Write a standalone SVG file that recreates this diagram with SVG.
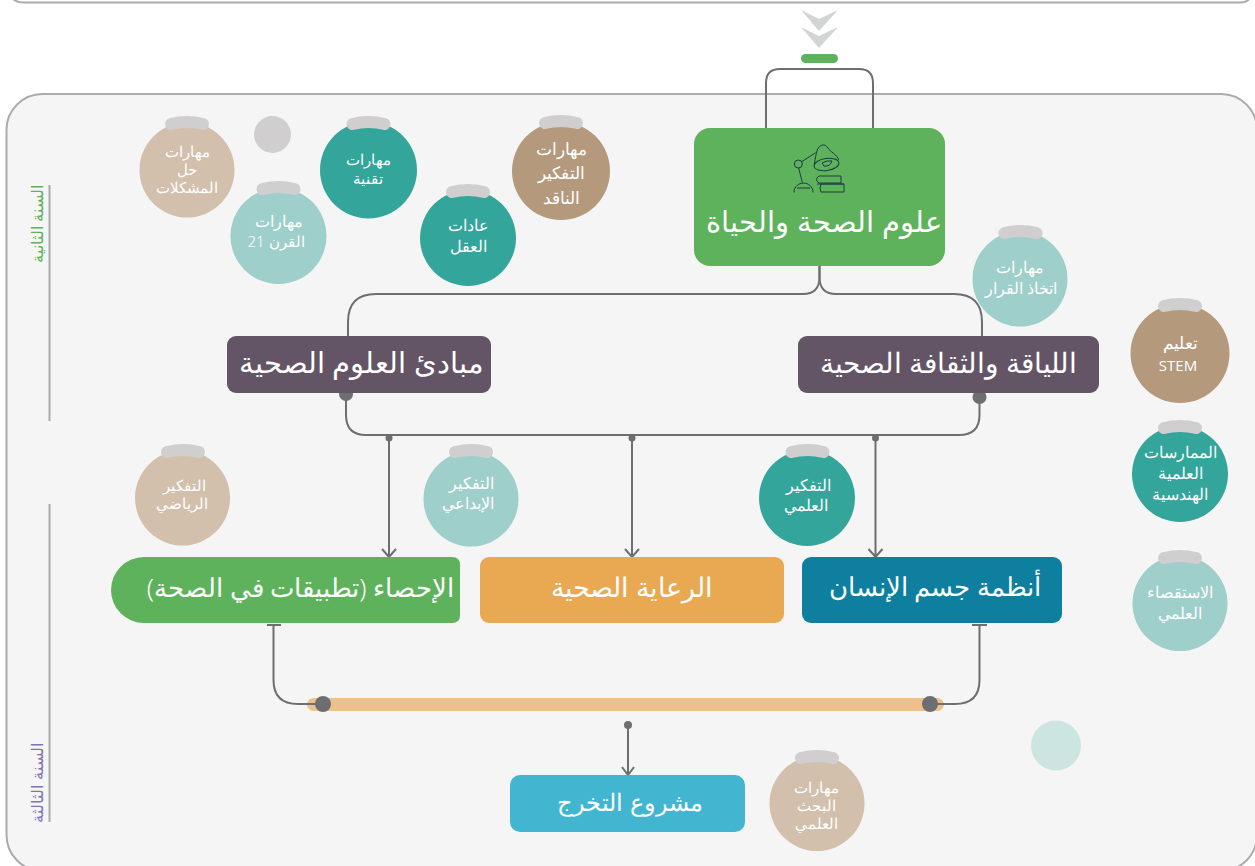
<svg xmlns="http://www.w3.org/2000/svg" width="1255" height="866" viewBox="0 0 1255 866">
<style>
text{font-family:"Noto Sans","DejaVu Sans",sans-serif;font-weight:300;fill:#fff;text-anchor:middle;direction:rtl}
.c{font-size:14.5px}
.m{font-size:16px}
.l{font-size:17px}
.t{font-size:26px}
.line{fill:none;stroke:#6d6e71;stroke-width:2}
.rule{fill:none;stroke:#a9abae;stroke-width:2}
.cap{fill:none;stroke:#d0cecf;stroke-width:12;stroke-linecap:round}
.dot{fill:#6d6e71}
.tan{fill:#d2c0ac}.teal{fill:#33a59a}.mint{fill:#9fcfca}.brown{fill:#b4997c}
.purple{fill:#635566}
</style>
<defs>
<path id="cap" d="M-16,8Q0,4 16,8"/>
</defs>
<rect x="0" y="0" width="1255" height="866" fill="#fff"/>
<g id="top-panel"><path class="rule" d="M12,-2Q16,2.500 24,2.500H1240Q1247,2.500 1250,-2"/></g>
<g id="panel"><rect x="6.500" y="94" width="1250.500" height="777" rx="36" fill="#f5f5f5" stroke="#a9abae" stroke-width="2"/></g>
<g id="chevrons" fill="#d3d5d4"><path d="M801,10L819,19L838,10L819,31Z"/><path d="M801,27L819,36L838,27L819,48Z"/></g>
<rect id="green-pill" x="801" y="54" width="37" height="9" rx="4.500" fill="#5eb25b"/>
<g id="year-labels">
<path class="rule" d="M49.500,185V421M49.500,504V822"/>
<text transform="translate(43,224) rotate(-90)" style="fill:#5eb25b;font-size:16px">السنة الثانية</text>
<text transform="translate(43,783) rotate(-90)" style="fill:#8272b5;font-size:15.500px">السنة الثالثة</text>
</g>
<g id="connectors">
<path class="line" d="M766,128V83Q766,69 780,69H859Q873,69 873,83V128"/>
<path class="line" d="M819.500,266V278Q819,294 803,294H376Q348,294 348,322V336"/>
<path class="line" d="M819.500,266V278Q820,294 836,294H954Q982,294 982,322V336"/>
<path class="line" d="M346,394V415Q346,435 366,435H959Q979.500,435 979.500,415V397"/>
<path class="line" d="M389,438V557M382,549L389,557L396,549"/>
<path class="line" d="M632,438V557M625,549L632,557L639,549"/>
<path class="line" d="M875.500,438V557M868.500,549L875.500,557L882.500,549"/>
<path class="line" d="M273.500,625V680Q273.500,704 298,704H323"/>
<path class="line" d="M979.500,625V680Q979.500,704 955,704H930"/>
<path class="line" d="M267,625H281M972,625H987"/>
<rect x="307" y="698" width="637" height="13" rx="6.500" fill="#eec08a"/>
<path class="line" d="M298,704H323M955,704H930"/>
<path class="line" d="M628,725V775M622,767L628,775L634,767"/>
<circle class="dot" cx="346" cy="394" r="7"/><circle class="dot" cx="979.500" cy="397" r="7"/>
<circle class="dot" cx="389" cy="438" r="3.500"/><circle class="dot" cx="632" cy="438" r="3.500"/><circle class="dot" cx="875.500" cy="438" r="3.500"/>
<circle class="dot" cx="323" cy="704" r="8"/><circle class="dot" cx="930" cy="704" r="8"/>
<circle class="dot" cx="628" cy="725" r="4"/>
</g>
<g id="node-main">
<rect x="694" y="128" width="251" height="138" rx="16" fill="#5eb25b"/>
<g fill="none" stroke="#1d3b45" stroke-width="1">
<circle cx="798.300" cy="164" r="4"/><path d="M801.700,161.700L815.700,152.700M798.700,167.800L802.300,182.700M794,192.500C794,180 813,180 813,192.500M797,188H810"/>
<path d="M814.500,164C815,158 816,155 817,151C818,146 824,142 828,148C829,151 838,155 838.500,160"/>
<ellipse cx="826.500" cy="164.500" rx="12.500" ry="6" transform="rotate(-8 826.500 164.500)"/><path d="M822,163Q827,160 832,161Q830,167 824,166Z"/>
<path d="M841,176H819Q814,179.500 819,183H841M841,176V183M844,184H821Q819,188 821,192H844M844,184V192M817,184H844"/>
</g>
<text x="824" y="232" style="font-size:29px">علوم الصحة والحياة</text>
</g>
<g id="node-principles"><rect class="purple" x="227" y="336" width="264" height="57" rx="9"/><text x="361.500" y="373" style="font-size:28.500px">مبادئ العلوم الصحية</text></g>
<g id="node-fitness"><rect class="purple" x="798" y="336" width="301" height="57" rx="9"/><text x="948.500" y="373" style="font-size:28px">اللياقة والثقافة الصحية</text></g>
<g id="node-stats"><path d="M144,557H452Q460,557 460,565V615Q460,623 452,623H144A33,33 0 0 1 144,557Z" fill="#5eb25b"/><text class="t" x="300.500" y="597">الإحصاء (تطبيقات في الصحة)</text></g>
<g id="node-care"><rect x="480" y="557" width="304" height="66" rx="9" fill="#e9a953"/><text x="632" y="597" style="font-size:26.500px">الرعاية الصحية</text></g>
<g id="node-body"><rect x="802" y="557" width="260" height="66" rx="9" fill="#0f7f9f"/><text x="935" y="596" style="font-size:26px">أنظمة جسم الإنسان</text></g>
<g id="node-project"><rect x="510" y="775" width="235" height="57" rx="10" fill="#42b5d1"/><text x="630" y="811" style="font-size:24px">مشروع التخرج</text></g>
<g id="skill-problem"><circle class="tan" cx="187" cy="170" r="47.500"/><use class="cap" href="#cap" x="187" y="116"/><text class="c" x="187" y="157">مهارات</text><text class="c" x="187" y="175">حل</text><text class="c" x="187" y="193">المشكلات</text></g>
<circle id="deco-gray" cx="272.500" cy="134.500" r="18.500" fill="#d0cecf"/>
<g id="skill-tech"><circle class="teal" cx="368.500" cy="170" r="48.500"/><use class="cap" href="#cap" x="368.500" y="116"/><text class="c" x="368" y="165">مهارات</text><text class="c" x="368" y="184">تقنية</text></g>
<g id="skill-21"><circle class="mint" cx="278.500" cy="236" r="48"/><use class="cap" href="#cap" x="278.500" y="181"/><text class="m" x="279" y="227">مهارات</text><text x="276" y="247" style="font-size:15px">القرن 21</text></g>
<g id="skill-habits"><circle class="teal" cx="468" cy="238" r="48"/><use class="cap" href="#cap" x="468" y="184"/><text class="m" x="468" y="231">عادات</text><text class="m" x="468" y="252">العقل</text></g>
<g id="skill-critical"><circle class="brown" cx="561" cy="171" r="49"/><use class="cap" href="#cap" x="561" y="115"/><text class="l" x="561" y="155">مهارات</text><text class="l" x="561" y="179">التفكير</text><text class="l" x="561" y="204">الناقد</text></g>
<g id="skill-decision"><circle class="mint" cx="1020" cy="279" r="47.500"/><use class="cap" href="#cap" x="1020.500" y="225"/><text class="m" x="1020" y="273">مهارات</text><text class="m" x="1021" y="294">اتخاذ القرار</text></g>
<g id="skill-stem"><circle class="brown" cx="1180" cy="353.500" r="49.500"/><use class="cap" href="#cap" x="1180" y="298"/><text class="l" x="1180" y="349">تعليم</text><text x="1178" y="371" style="font-family:'Open Sans';direction:ltr;font-size:15px;font-weight:400">STEM</text></g>
<g id="skill-practices"><circle class="teal" cx="1180" cy="474" r="48"/><use class="cap" href="#cap" x="1180" y="420"/><text class="m" x="1180" y="458">الممارسات</text><text class="m" x="1180" y="479">العلمية</text><text class="m" x="1180" y="500">الهندسية</text></g>
<g id="skill-inquiry"><circle class="mint" cx="1180" cy="603.500" r="47.500"/><use class="cap" href="#cap" x="1180" y="550"/><text class="m" x="1180" y="598">الاستقصاء</text><text class="m" x="1180" y="619">العلمي</text></g>
<g id="skill-math"><circle class="tan" cx="182.500" cy="498" r="47.500"/><use class="cap" href="#cap" x="183" y="444"/><text class="c" x="184" y="491">التفكير</text><text class="c" x="182" y="509">الرياضي</text></g>
<g id="skill-creative"><circle class="mint" cx="471" cy="499" r="47.500"/><use class="cap" href="#cap" x="471" y="444"/><text class="m" x="471" y="489">التفكير</text><text class="m" x="468" y="509">الإبداعي</text></g>
<g id="skill-scientific"><circle class="teal" cx="807" cy="498" r="48"/><use class="cap" href="#cap" x="807.500" y="444"/><text class="m" x="808" y="491">التفكير</text><text class="m" x="806" y="511">العلمي</text></g>
<g id="skill-research"><circle class="tan" cx="817" cy="803.500" r="47.500"/><use class="cap" href="#cap" x="817" y="750"/><text class="c" x="816" y="793">مهارات</text><text class="c" x="816" y="811">البحث</text><text class="c" x="816" y="829">العلمي</text></g>
<circle id="deco-mint" cx="1056" cy="745.500" r="25" fill="#cce5e0"/>
</svg>
